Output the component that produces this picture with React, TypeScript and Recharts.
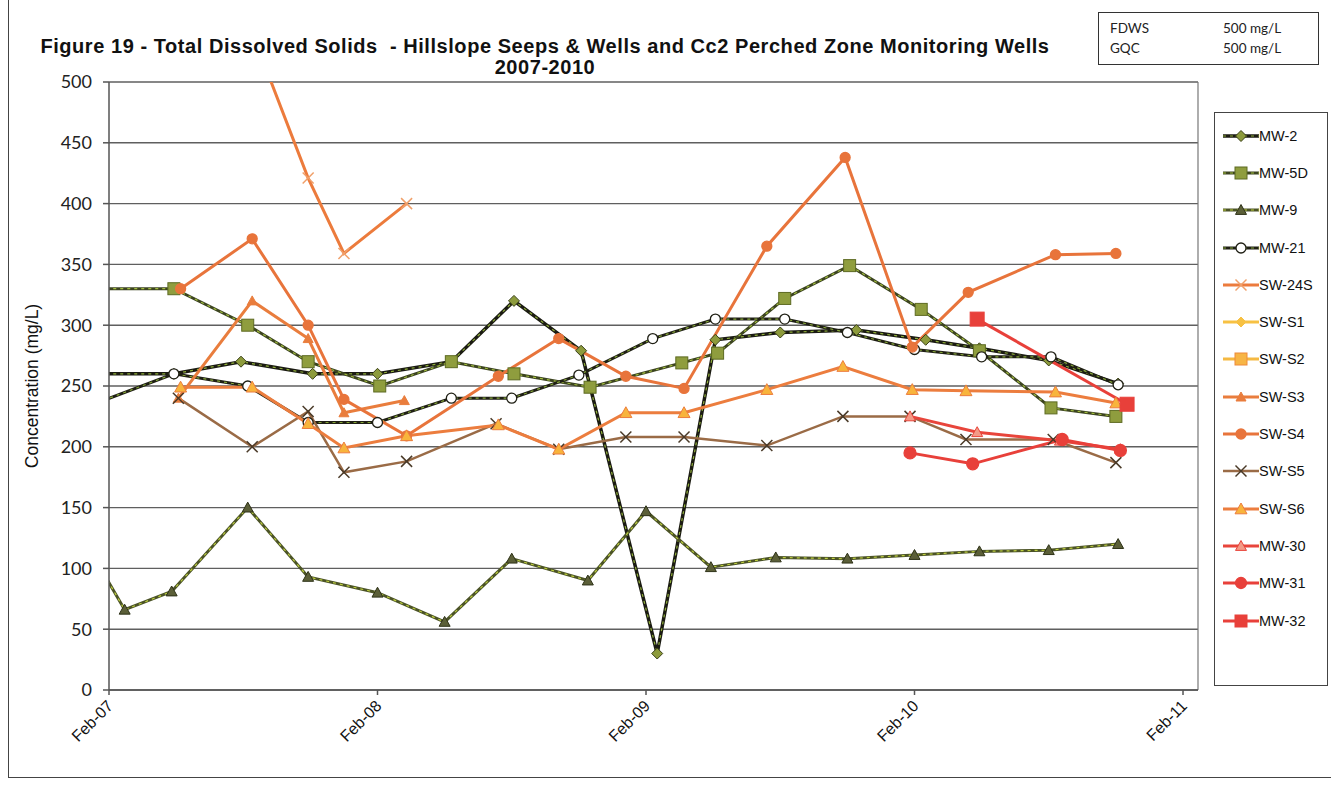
import React from "react";
import { LineChart, Line, XAxis, YAxis, CartesianGrid, Legend, ReferenceLine } from "recharts";

// months after Feb-07, TDS mg/L
const mw2: [number, number][] = [[-2, 260], [2.9, 260], [5.9, 270], [9.1, 260], [12.0, 260], [15.3, 270], [18.1, 320], [21.1, 279], [24.5, 30], [27.1, 288], [30.0, 294], [33.4, 296], [36.5, 288], [38.9, 281], [42.0, 271], [45.1, 252]];
const mw5d: [number, number][] = [[-2, 330], [2.9, 330], [6.2, 300], [8.9, 270], [12.1, 250], [15.3, 270], [18.1, 260], [21.5, 249], [25.6, 269], [27.2, 277], [30.2, 322], [33.1, 349], [36.3, 313], [38.9, 279], [42.1, 232], [45.0, 225]];
const mw9: [number, number][] = [[-1, 120], [0.7, 66], [2.8, 81], [6.2, 150], [8.9, 93], [12.0, 80], [15.0, 56], [18.0, 108], [21.4, 90], [24.0, 147], [26.9, 101], [29.8, 109], [33.0, 108], [36.0, 111], [38.9, 114], [42.0, 115], [45.1, 120]];
const mw21: [number, number][] = [[-2, 226], [2.9, 260], [6.2, 250], [8.9, 220], [12.0, 220], [15.3, 240], [18.0, 240], [21.0, 259], [24.3, 289], [27.1, 305], [30.2, 305], [33.0, 294], [36.0, 280], [39.0, 274], [42.1, 274], [45.1, 251]];
const sw24s: [number, number][] = [[6.2, 550], [8.9, 421], [10.5, 359], [13.3, 400]];
const swS1: [number, number][] = [];
const swS2: [number, number][] = [];
const swS3: [number, number][] = [[3.1, 240], [6.4, 320], [8.9, 289], [10.5, 228], [13.2, 238]];
const swS4: [number, number][] = [[3.2, 330], [6.4, 371], [8.9, 300], [10.5, 239], [13.3, 209], [17.4, 258], [20.1, 289], [23.1, 258], [25.7, 248], [29.4, 365], [32.9, 438], [35.9, 282], [38.4, 327], [42.3, 358], [45.0, 359]];
const swS5: [number, number][] = [[3.1, 240], [6.4, 200], [8.9, 229], [10.5, 179], [13.3, 188], [17.3, 219], [20.1, 198], [23.1, 208], [25.7, 208], [29.4, 201], [32.8, 225], [35.8, 225], [38.3, 206], [42.2, 206], [45.0, 187]];
const swS6: [number, number][] = [[3.2, 249], [6.4, 249], [8.9, 219], [10.5, 199], [13.3, 209], [17.4, 218], [20.1, 198], [23.1, 228], [25.7, 228], [29.4, 247], [32.8, 266], [35.9, 247], [38.3, 246], [42.3, 245], [45.0, 236]];
const mw30: [number, number][] = [[35.8, 225], [38.8, 212], [42.5, 205], [45.2, 198]];
const mw31: [number, number][] = [[35.8, 195], [38.6, 186], [42.6, 206], [45.2, 197]];
const mw32: [number, number][] = [[38.8, 305], [45.5, 235]];

const xTicks = [0, 12, 24, 36, 48];
const xTickLabels = ["Feb-07", "Feb-08", "Feb-09", "Feb-10", "Feb-11"];
const yTicks = [0, 50, 100, 150, 200, 250, 300, 350, 400, 450, 500];

type Shape = "diamond" | "square" | "triangle" | "circle" | "x" | "none";

interface Series {
  name: string;
  data: [number, number][];
  color: string;
  width: number;
  shape: Shape;
  size: number;
  fill: string;
  mstroke: string;
  overlay?: string; // dashed green texture on the MW well lines
}

const series: Series[] = [
  { name: "MW-2", data: mw2, color: "#1b1b12", width: 3.5, shape: "diamond", size: 11, fill: "#8d9b3c", mstroke: "#3a4018", overlay: "#8fae3a" },
  { name: "MW-5D", data: mw5d, color: "#3c4420", width: 3, shape: "square", size: 12, fill: "#8f9d3e", mstroke: "#5d6a22", overlay: "#a2bd3e" },
  { name: "MW-9", data: mw9, color: "#4b5326", width: 3, shape: "triangle", size: 11, fill: "#5b5f38", mstroke: "#2e3218", overlay: "#bccd3e" },
  { name: "MW-21", data: mw21, color: "#1f1f14", width: 3, shape: "circle", size: 11, fill: "#ffffff", mstroke: "#1f1f14", overlay: "#86a63a" },
  { name: "SW-24S", data: sw24s, color: "#ec7b3c", width: 3, shape: "x", size: 11, fill: "none", mstroke: "#f0a06a" },
  { name: "SW-S1", data: swS1, color: "#f7c143", width: 3, shape: "diamond", size: 10, fill: "#f7c143", mstroke: "#f7c143" },
  { name: "SW-S2", data: swS2, color: "#f5b942", width: 3, shape: "square", size: 12, fill: "#f7b545", mstroke: "#ee8a3a" },
  { name: "SW-S3", data: swS3, color: "#e97d3d", width: 3, shape: "triangle", size: 10, fill: "#e97d3d", mstroke: "#e97d3d" },
  { name: "SW-S4", data: swS4, color: "#e8743b", width: 3, shape: "circle", size: 11, fill: "#e8743b", mstroke: "#e8743b" },
  { name: "SW-S5", data: swS5, color: "#9a6b46", width: 2.5, shape: "x", size: 11, fill: "none", mstroke: "#4a3a28" },
  { name: "SW-S6", data: swS6, color: "#ec7d3e", width: 3, shape: "triangle", size: 12, fill: "#f8b43c", mstroke: "#ec7d3e" },
  { name: "MW-30", data: mw30, color: "#e8453b", width: 3, shape: "triangle", size: 11, fill: "#f39a86", mstroke: "#e8453b" },
  { name: "MW-31", data: mw31, color: "#e8403a", width: 3, shape: "circle", size: 13, fill: "#e8403a", mstroke: "#e8403a" },
  { name: "MW-32", data: mw32, color: "#e8403a", width: 3, shape: "square", size: 14, fill: "#e8403a", mstroke: "#e8403a" },
];

function Marker({ shape, cx, cy, size, fill, stroke }: { shape: Shape; cx: number; cy: number; size: number; fill: string; stroke: string }) {
  const h = size / 2;
  switch (shape) {
    case "diamond":
      return <polygon points={`${cx},${cy - h} ${cx + h},${cy} ${cx},${cy + h} ${cx - h},${cy}`} fill={fill} stroke={stroke} strokeWidth={1} />;
    case "square":
      return <rect x={cx - h} y={cy - h} width={size} height={size} fill={fill} stroke={stroke} strokeWidth={1} />;
    case "triangle":
      return <polygon points={`${cx},${cy - h} ${cx + h},${cy + h * 0.8} ${cx - h},${cy + h * 0.8}`} fill={fill} stroke={stroke} strokeWidth={1} />;
    case "circle":
      return <circle cx={cx} cy={cy} r={h - 0.5} fill={fill} stroke={stroke} strokeWidth={1.3} />;
    case "x":
      return (
        <g stroke={stroke} strokeWidth={1.5}>
          <line x1={cx - h} y1={cy - h} x2={cx + h} y2={cy + h} />
          <line x1={cx - h} y1={cy + h} x2={cx + h} y2={cy - h} />
        </g>
      );
    default:
      return null;
  }
}

const makeDot = (s: Series) => (p: any) => {
  if (p.cx == null || p.cy == null) return <g key={`e-${p.index}`} />;
  return <Marker key={`d-${s.name}-${p.index}`} shape={s.shape} cx={p.cx} cy={p.cy} size={s.size} fill={s.fill} stroke={s.mstroke} />;
};

const XTick = (p: any) => {
  const i = xTicks.indexOf(p.payload.value);
  const x = p.x + 5;
  const y = p.y + 10;
  return (
    <text x={x} y={y} transform={`rotate(-45 ${x} ${y})`} textAnchor="end" fontFamily="Liberation Sans, Arial" fontSize={16} fill="#111">
      {xTickLabels[i]}
    </text>
  );
};

const YLabel = (p: any) => {
  const vb = p.viewBox;
  const x = 33;
  const y = vb.y + vb.height / 2;
  return (
    <text x={x} y={y} transform={`rotate(-90 ${x} ${y})`} textAnchor="middle" dominantBaseline="middle" fontFamily="Liberation Sans, Arial" fontSize={17.5} fill="#111">
      Concentration (mg/L)
    </text>
  );
};

function LegendBox() {
  return (
    <div style={{ width: 114, height: 574, border: "1.5px solid #444", boxSizing: "border-box", background: "#fff", paddingTop: 4 }}>
      {series.map((s) => (
        <div key={s.name} style={{ display: "flex", alignItems: "center", height: 37.3 }}>
          <svg width={42} height={16} style={{ marginLeft: 6 }}>
            <line x1={2} y1={8} x2={38} y2={8} stroke={s.color} strokeWidth={s.width} />
            {s.overlay && <line x1={2} y1={8} x2={38} y2={8} stroke={s.overlay} strokeWidth={1.2} strokeDasharray="3 4" />}
            <Marker shape={s.shape} cx={20} cy={8} size={Math.min(s.size, 12)} fill={s.fill} stroke={s.mstroke} />
          </svg>
          <span style={{ fontFamily: "Liberation Sans, Arial", fontSize: 14.5, color: "#111", marginLeft: -4 }}>{s.name}</span>
        </div>
      ))}
    </div>
  );
}

const toPts = (d: [number, number][]) => d.map(([m, v]) => ({ m, v }));

export default function App() {
  return (
    <div style={{ position: "absolute", left: 0, top: 0, width: 1331, height: 786, background: "#fff", overflow: "hidden" }}>
      <div style={{ position: "absolute", left: 8, top: -4, width: 1400, height: 782, border: "1.5px solid #444", boxSizing: "border-box" }} />
      <div style={{ position: "absolute", left: 0, top: 36, width: 1090, textAlign: "center", fontFamily: "Liberation Sans, Arial", fontWeight: "bold", fontSize: 20, letterSpacing: 0.55, color: "#111", lineHeight: "21px" }}>
        Figure 19 - Total Dissolved Solids&nbsp; - Hillslope Seeps &amp; Wells and Cc2 Perched Zone Monitoring Wells
        <br />
        2007-2010
      </div>
      <div style={{ position: "absolute", left: 1098, top: 12, width: 221, height: 53, border: "1.5px solid #333", boxSizing: "border-box", fontFamily: "Lato, Open Sans", fontSize: 13.5, color: "#222" }}>
        <div style={{ position: "absolute", left: 11, top: 7 }}>FDWS</div>
        <div style={{ position: "absolute", left: 124, top: 7 }}>500 mg/L</div>
        <div style={{ position: "absolute", left: 11, top: 27 }}>GQC</div>
        <div style={{ position: "absolute", left: 124, top: 27 }}>500 mg/L</div>
      </div>
      <div style={{ position: "absolute", left: 0, top: 0 }}>
        <LineChart width={1331} height={786} margin={{ top: 82, right: 133, bottom: 36, left: 9 }}>
          <CartesianGrid vertical={false} stroke="#5f5f5f" strokeWidth={1.4} />
          <XAxis
            type="number"
            dataKey="m"
            domain={[0, 48.67]}
            allowDataOverflow
            ticks={xTicks}
            tick={<XTick />}
            tickSize={5}
            height={60}
            stroke="#555"
            strokeWidth={1.5}
            interval={0}
          />
          <YAxis
            type="number"
            domain={[0, 500]}
            allowDataOverflow
            ticks={yTicks}
            width={100}
            tickSize={6}
            tickMargin={11}
            stroke="#555"
            strokeWidth={1.5}
            tick={{ fontFamily: "Lato, Open Sans", fontSize: 18, fill: "#222" }}
            label={<YLabel />}
          />
          <ReferenceLine x={48.67} stroke="#777" strokeWidth={1.2} />
          {series.map((s) => (
            <Line
              key={`${s.name}-base`}
              data={toPts(s.data)}
              dataKey="v"
              name={s.name}
              stroke={s.color}
              strokeWidth={s.width}
              dot={s.overlay ? false : makeDot(s)}
              activeDot={false}
              isAnimationActive={false}
              legendType="none"
            />
          )).flatMap((el, i) => {
            const s = series[i];
            if (!s.overlay) return [el];
            return [
              el,
              <Line
                key={`${s.name}-tex`}
                data={toPts(s.data)}
                dataKey="v"
                name={`${s.name} texture`}
                stroke={s.overlay}
                strokeWidth={1.2}
                strokeDasharray="3 4"
                dot={makeDot(s)}
                activeDot={false}
                isAnimationActive={false}
                legendType="none"
              />,
            ];
          })}
          <Legend
            layout="vertical"
            align="center"
            verticalAlign="middle"
            content={() => <LegendBox />}
            wrapperStyle={{ left: 1214, top: 112, width: 114, height: 574 }}
          />
        </LineChart>
      </div>
    </div>
  );
}
